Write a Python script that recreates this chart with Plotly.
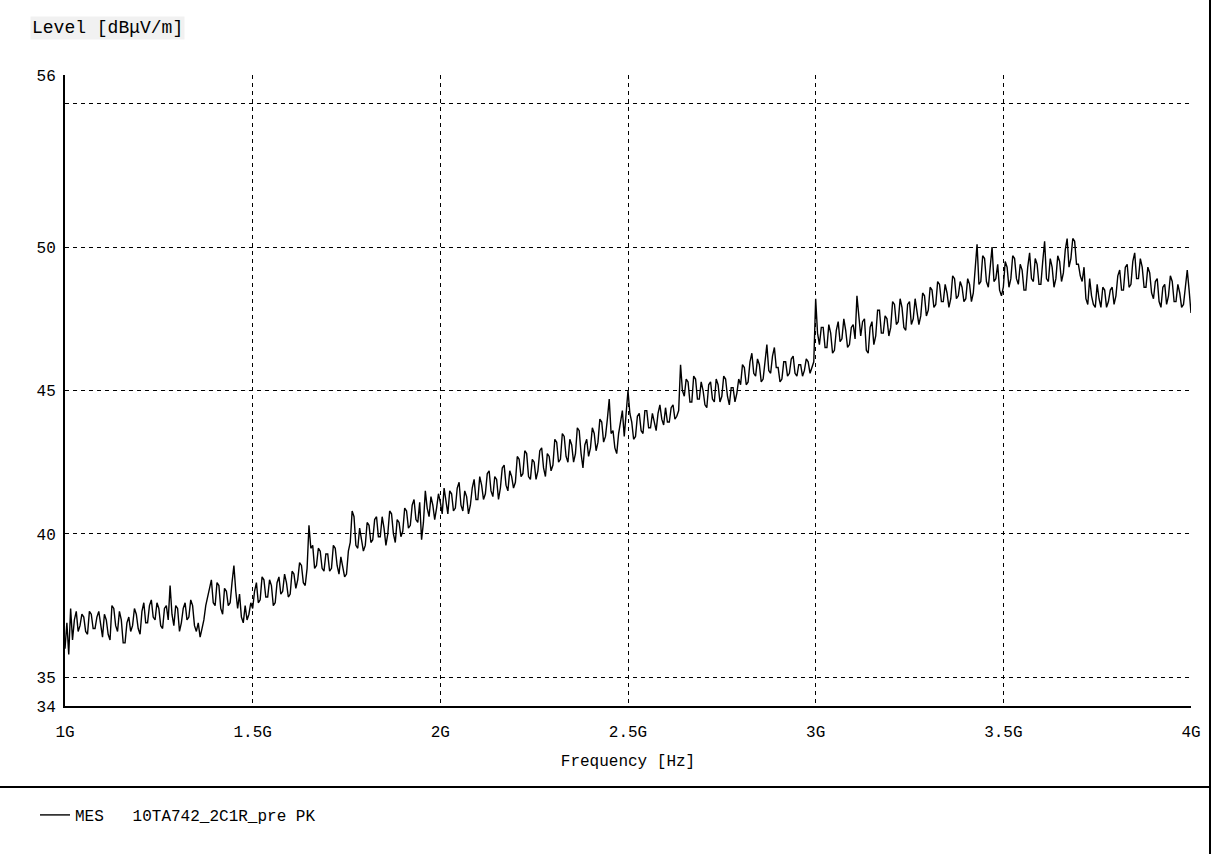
import numpy as np
import plotly.graph_objects as go

# ---- data -------------------------------------------------------------
freq_start_ghz = 1.0
freq_step_ghz = 0.005

level_dbuv = [
    # 1.00 - 1.095
    36.0, 36.9, 35.8, 37.4, 36.3, 37.0, 37.3, 36.6, 36.8, 37.2, 37.1, 36.6, 36.5, 37.3, 37.2, 36.7, 36.7, 37.1, 37.3, 36.9,
    # 1.10 - 1.195
    36.4, 37.2, 37.0, 36.5, 36.3, 37.5, 37.4, 36.8, 36.6, 37.3, 37.0, 36.2, 36.2, 36.9, 37.1, 36.6, 36.8, 37.4, 37.2, 36.7,
    # 1.20 - 1.295
    36.5, 37.3, 37.6, 36.9, 36.9, 37.5, 37.7, 37.1, 37.0, 37.6, 37.4, 36.8, 36.7, 37.4, 37.5, 37.0, 38.2, 37.2, 36.8, 37.5,
    # 1.30 - 1.395
    37.4, 36.6, 36.9, 37.4, 37.6, 37.0, 37.1, 37.7, 37.5, 36.8, 36.6, 36.9, 36.4, 36.7, 37.0, 37.5, 37.8, 38.2, 38.4, 37.6,
    # 1.40 - 1.495
    37.5, 38.3, 38.2, 37.4, 37.2, 38.1, 38.0, 37.5, 37.6, 38.3, 38.9, 38.0, 37.4, 37.9, 37.1, 36.9, 37.5, 37.0, 37.2, 37.6,
    # 1.50 - 1.595
    37.4, 38.0, 38.3, 37.6, 37.7, 38.5, 38.4, 37.8, 37.8, 38.4, 38.2, 37.5, 37.6, 38.3, 38.5, 37.9, 38.0, 38.6, 38.3, 37.8,
    # 1.60 - 1.695
    37.9, 38.7, 38.6, 38.1, 38.4, 39.0, 38.9, 38.3, 38.2, 38.8, 40.3, 39.5, 39.6, 38.8, 38.9, 39.5, 39.4, 38.8, 38.7, 39.3,
    # 1.70 - 1.795
    39.3, 38.7, 38.8, 39.6, 39.5, 38.9, 38.6, 39.2, 38.9, 38.5, 38.6, 39.4, 39.7, 40.8, 40.6, 39.6, 39.5, 40.2, 39.8, 39.4,
    # 1.80 - 1.895
    39.6, 40.4, 40.3, 39.7, 39.8, 40.5, 40.6, 39.9, 39.9, 40.6, 40.2, 39.6, 40.0, 40.8, 40.7, 40.0, 39.7, 40.5, 40.4, 39.9,
    # 1.90 - 1.995
    40.1, 40.9, 40.8, 40.2, 40.3, 41.0, 41.2, 40.5, 40.4, 41.1, 39.8, 40.4, 41.5, 40.9, 40.6, 41.3, 41.0, 40.5, 40.9, 41.4,
    # 2.00 - 2.095
    41.1, 40.7, 41.6, 41.2, 40.7, 41.5, 41.4, 40.8, 40.9, 41.6, 41.8, 41.0, 40.8, 41.5, 41.3, 40.7, 41.0, 41.6, 41.9, 41.2,
    # 2.10 - 2.195
    41.2, 42.0, 41.7, 41.2, 41.4, 42.1, 42.2, 41.5, 41.3, 42.0, 41.9, 41.2, 41.6, 42.3, 42.4, 41.7, 41.5, 42.2, 42.0, 41.6,
    # 2.20 - 2.295
    41.8, 42.7, 42.6, 42.0, 42.1, 42.9, 42.8, 42.0, 41.9, 42.6, 42.5, 41.9, 42.2, 42.9, 43.0, 42.3, 42.0, 42.8, 42.7, 42.2,
    # 2.30 - 2.395
    42.4, 43.3, 43.2, 42.5, 42.6, 43.5, 43.4, 42.7, 42.5, 43.3, 43.1, 42.5, 42.8, 43.7, 43.6, 42.8, 42.3, 43.1, 43.3, 42.7,
    # 2.40 - 2.495
    43.0, 43.7, 43.5, 42.9, 43.2, 44.0, 43.9, 43.2, 43.4, 44.0, 44.7, 43.5, 43.6, 43.0, 42.8, 43.5, 43.9, 44.3, 43.4, 44.1,
    # 2.50 - 2.595
    45.0, 44.2, 43.9, 43.3, 43.4, 44.1, 44.2, 43.6, 43.5, 44.3, 44.3, 43.7, 43.7, 44.2, 43.9, 43.6, 44.2, 44.5, 44.0, 43.8,
    # 2.60 - 2.695
    44.4, 43.9, 43.9, 44.4, 44.5, 44.0, 44.1, 44.3, 45.9, 45.0, 44.8, 45.4, 45.3, 44.6, 44.6, 45.5, 45.4, 44.7, 44.7, 45.3,
    # 2.70 - 2.795
    45.0, 44.5, 44.4, 45.2, 45.3, 44.7, 44.6, 45.4, 45.2, 44.6, 44.8, 45.5, 45.4, 44.8, 44.5, 45.1, 45.1, 44.6, 44.9, 45.4,
    # 2.80 - 2.895
    45.2, 45.9, 45.8, 45.2, 45.3, 46.0, 46.3, 45.6, 45.5, 46.1, 45.9, 45.3, 45.4, 46.0, 46.6, 45.7, 45.6, 46.2, 46.5, 45.8,
    # 2.90 - 2.995
    45.8, 45.3, 45.4, 46.0, 46.0, 45.5, 45.6, 46.1, 46.2, 45.6, 45.5, 45.9, 45.9, 45.5, 45.7, 46.1, 46.0, 45.6, 45.8, 46.0,
    # 3.00 - 3.095
    48.2, 47.0, 46.6, 47.2, 47.2, 46.5, 46.5, 47.3, 47.0, 46.3, 46.4, 47.1, 47.4, 46.7, 46.8, 47.5, 47.1, 46.5, 46.6, 47.2,
    # 3.10 - 3.195
    47.3, 46.8, 48.3, 47.6, 46.9, 47.4, 47.5, 46.4, 46.3, 47.2, 47.4, 46.6, 46.9, 47.8, 47.8, 47.0, 47.0, 47.6, 47.5, 46.9,
    # 3.20 - 3.295
    47.2, 48.1, 48.0, 47.3, 47.4, 48.2, 47.9, 47.2, 47.1, 48.0, 48.1, 47.3, 47.5, 48.2, 47.8, 47.3, 47.6, 48.4, 48.3, 47.6,
    # 3.30 - 3.395
    47.8, 48.6, 48.5, 47.9, 48.0, 48.8, 48.7, 48.1, 48.1, 48.7, 48.4, 47.9, 48.2, 49.0, 48.9, 48.2, 48.3, 48.8, 48.6, 48.1,
    # 3.40 - 3.495
    48.2, 48.9, 48.7, 48.1, 48.4, 49.2, 50.1, 48.7, 48.8, 49.7, 49.6, 48.8, 48.6, 49.3, 50.0, 48.8, 48.9, 49.4, 48.5, 48.3,
    # 3.50 - 3.595
    48.6, 49.5, 49.3, 48.6, 48.9, 49.7, 49.6, 48.9, 48.7, 49.4, 49.2, 48.5, 48.5, 49.3, 49.8, 48.9, 48.8, 49.6, 49.4, 48.7,
    # 3.60 - 3.695
    48.7, 49.5, 50.2, 48.9, 48.8, 49.6, 49.3, 48.6, 48.9, 49.7, 49.5, 48.8, 49.1, 49.9, 50.3, 49.3, 49.6, 50.3, 50.2, 49.4,
    # 3.70 - 3.795
    49.4, 49.0, 48.8, 49.3, 48.2, 48.0, 48.9, 48.3, 48.0, 47.9, 48.7, 48.2, 47.9, 48.6, 48.5, 47.9, 48.1, 48.5, 48.6, 48.0,
    # 3.80 - 3.895
    48.3, 49.0, 49.2, 48.5, 48.5, 49.3, 49.4, 48.6, 48.7, 49.5, 49.8, 48.9, 48.9, 49.6, 49.3, 48.6, 48.6, 49.3, 49.1, 48.4,
    # 3.90 - 3.995
    48.2, 48.8, 48.9, 48.1, 47.9, 48.6, 48.7, 48.0, 48.3, 49.0, 48.8, 48.1, 48.1, 48.7, 48.4, 47.9, 48.0, 48.6, 49.2, 48.5,
    # 4.00
    47.7,
]

x_tick_vals = [1.0, 1.5, 2.0, 2.5, 3.0, 3.5, 4.0]
x_tick_text = ["1G", "1.5G", "2G", "2.5G", "3G", "3.5G", "4G"]
y_tick_vals = [34, 35, 40, 45, 50, 55, 56]
y_tick_text = ["34", "35", "40", "45", "50", "", "56"]

trace_name = "MES\u00a0\u00a0\u00a010TA742_2C1R_pre\u00a0PK"

freq_ghz = freq_start_ghz + freq_step_ghz * np.arange(len(level_dbuv))

# ---- figure -----------------------------------------------------------
MONO = "Liberation Mono, DejaVu Sans Mono, monospace"
W, H = 1213, 854
L, R, T, B = 65, 22, 75, 148
pw, ph = W - L - R, H - T - B


def px_x(px):
    return (px - L) / pw


def px_y(py):
    return (H - B - py) / ph


fig = go.Figure()
fig.add_trace(go.Scatter(
    x=freq_ghz, y=level_dbuv, mode="lines", name=trace_name,
    line=dict(color="black", width=1.4), showlegend=True,
))

grid_dash = "4px,4px"
fig.update_layout(
    template="none",
    width=W, height=H,
    margin=dict(l=L, r=R, t=T, b=B, pad=0, autoexpand=False),
    paper_bgcolor="white", plot_bgcolor="white",
    font=dict(family=MONO, color="black", size=15),
    xaxis=dict(
        range=[1.0, 4.0], tickvals=x_tick_vals, ticktext=x_tick_text,
        showgrid=True, gridcolor="black", gridwidth=1, griddash=grid_dash,
        showline=True, linecolor="black", linewidth=2, ticks="",
        zeroline=False, ticklabelstandoff=10, automargin=False,
        tickfont=dict(family=MONO, size=16),
        title=dict(text="Frequency [Hz]", font=dict(family=MONO, size=16), standoff=14),
    ),
    yaxis=dict(
        range=[34, 56], tickvals=y_tick_vals, ticktext=y_tick_text,
        showgrid=True, gridcolor="black", gridwidth=1, griddash=grid_dash,
        showline=True, linecolor="black", linewidth=2, ticks="",
        zeroline=False, ticklabelstandoff=4, automargin=False,
        tickfont=dict(family=MONO, size=16),
    ),
    legend=dict(
        x=px_x(35), y=px_y(815), xanchor="left", yanchor="middle",
        font=dict(family=MONO, size=16), bgcolor="rgba(0,0,0,0)",
        borderwidth=0,
    ),
    annotations=[
        dict(
            text="Level [dB\u03bcV/m]", xref="paper", yref="paper",
            x=px_x(30), y=px_y(28), xanchor="left", yanchor="middle",
            showarrow=False, font=dict(family=MONO, size=18),
            bgcolor="#f1f1f1",
        ),
    ],
    shapes=[
        dict(type="line", xref="paper", yref="paper",
             x0=px_x(0), x1=px_x(1210), y0=px_y(787), y1=px_y(787),
             line=dict(color="black", width=2)),
        dict(type="line", xref="paper", yref="paper",
             x0=px_x(1210), x1=px_x(1210), y0=px_y(0), y1=px_y(854),
             line=dict(color="black", width=2)),
    ],
)

fig.write_html("out.html")
